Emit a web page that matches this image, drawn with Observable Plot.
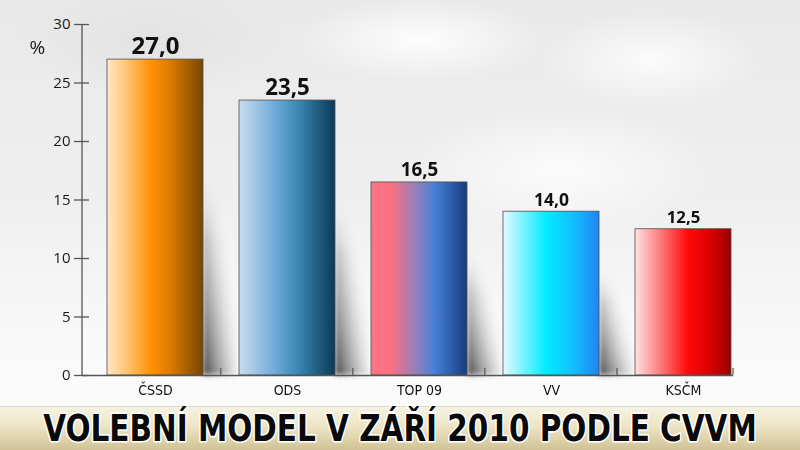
<!DOCTYPE html>
<html><head><meta charset="utf-8">
<script src="https://cdn.jsdelivr.net/npm/d3@7"></script>
<script src="https://cdn.jsdelivr.net/npm/@observablehq/plot@0.6"></script>
<style>
body{margin:0;background:#fff;}
#wrap{width:800px;height:450px;position:relative;overflow:hidden;
 background:
  radial-gradient(ellipse 180px 60px at 420px 40px, rgba(255,255,255,0.9), rgba(255,255,255,0) 70%),
  radial-gradient(ellipse 160px 70px at 650px 60px, rgba(255,255,255,0.8), rgba(255,255,255,0) 70%),
  radial-gradient(ellipse 220px 90px at 560px 170px, rgba(255,255,255,0.8), rgba(255,255,255,0) 70%),
  radial-gradient(ellipse 200px 80px at 150px 40px, rgba(225,225,225,0.8), rgba(225,225,225,0) 70%),
  linear-gradient(to bottom, #e9e9e9 0px, #efefef 200px, #f8f8f8 330px, #fbfbfb 400px);}
#chart{position:absolute;left:0;top:0;}
#band{position:absolute;left:0;top:406px;width:800px;height:44px;
 border-top:1px solid #d9d6cc;
 background:linear-gradient(to bottom,#f6f3e2 0%,#ece4c4 45%,#cfc194 100%);}
#title{position:absolute;left:0;top:400px;}
</style></head><body>
<svg width="0" height="0" style="position:absolute">
<defs>
 <linearGradient id="g-cssd" x1="0" x2="1" y1="0" y2="0">
  <stop offset="0" stop-color="#ffe7c6"/><stop offset="0.2" stop-color="#ffc577"/>
  <stop offset="0.45" stop-color="#ff9306"/><stop offset="0.65" stop-color="#df7c00"/>
  <stop offset="1" stop-color="#774600"/></linearGradient>
 <linearGradient id="g-ods" x1="0" x2="1" y1="0" y2="0">
  <stop offset="0" stop-color="#c8ddee"/><stop offset="0.35" stop-color="#76addb"/>
  <stop offset="0.6" stop-color="#3b8bb6"/><stop offset="1" stop-color="#0c3956"/></linearGradient>
 <linearGradient id="g-top09" x1="0" x2="1" y1="0" y2="0">
  <stop offset="0" stop-color="#ff7585"/><stop offset="0.2" stop-color="#fb7080"/>
  <stop offset="0.45" stop-color="#9b7fb8"/><stop offset="0.65" stop-color="#4a82d8"/>
  <stop offset="1" stop-color="#173c82"/></linearGradient>
 <linearGradient id="g-vv" x1="0" x2="1" y1="0" y2="0">
  <stop offset="0" stop-color="#e2fbff"/><stop offset="0.45" stop-color="#00ebff"/>
  <stop offset="0.7" stop-color="#10c6ff"/><stop offset="1" stop-color="#2184f2"/></linearGradient>
 <linearGradient id="g-kscm" x1="0" x2="1" y1="0" y2="0">
  <stop offset="0" stop-color="#ffe2e2"/><stop offset="0.35" stop-color="#ff5a5a"/>
  <stop offset="0.55" stop-color="#ff0a0a"/><stop offset="0.8" stop-color="#d60000"/>
  <stop offset="1" stop-color="#970000"/></linearGradient>
 <linearGradient id="g-shadow" x1="0" y1="1" x2="1" y2="0.2">
  <stop offset="0" stop-color="#2a2a2a" stop-opacity="0.9"/>
  <stop offset="0.4" stop-color="#999" stop-opacity="0.65"/>
  <stop offset="0.8" stop-color="#ffffff" stop-opacity="0.2"/>
  <stop offset="1" stop-color="#ffffff" stop-opacity="0"/></linearGradient>
 <linearGradient id="g-fade" x1="0" y1="0" x2="0" y2="1">
  <stop offset="0" stop-color="#fff" stop-opacity="0"/>
  <stop offset="0.3" stop-color="#fff" stop-opacity="0.8"/>
  <stop offset="1" stop-color="#fff" stop-opacity="1"/></linearGradient>
 <mask id="m-fade" maskContentUnits="objectBoundingBox">
  <rect x="0" y="0" width="1" height="1" fill="url(#g-fade)"/></mask>
 <filter id="f-blur" x="-0.5" y="-0.2" width="2" height="1.4"><feGaussianBlur stdDeviation="2.5"/></filter>
</defs></svg>
<div id="wrap"><div id="chart"></div><div id="band"></div>
<svg id="title" width="800" height="50"></svg></div>
<script>
const parties = ["ČSSD", "ODS", "TOP 09", "VV", "KSČM"];
const values = [27.0, 23.5, 16.5, 14.0, 12.5];
const valueLabels = ["27,0", "23,5", "16,5", "14,0", "12,5"];
const yTicks = [0, 5, 10, 15, 20, 25, 30];
const gradientIds = ["g-cssd", "g-ods", "g-top09", "g-vv", "g-kscm"];
const titleText = "VOLEBNÍ MODEL V ZÁŘÍ 2010 PODLE CVVM";
const unitLabel = "%";

const data = parties.map((p, i) => ({party: p, value: values[i], label: valueLabels[i], fill: `url(#${gradientIds[i]})`}));

const plot = Plot.plot({
  width: 800, height: 400,
  marginTop: 24, marginBottom: 25, marginLeft: 82, marginRight: 67,
  style: {background: "transparent", fontFamily: "'Open Sans', 'DejaVu Sans', sans-serif", color: "#1a1a1a", overflow: "visible"},
  x: {domain: parties, paddingInner: 0.27, paddingOuter: 0.1, align: 0.93, label: null},
  y: {domain: [0, 30], label: null},
  color: {type: "identity"},
  marks: [
    Plot.barY(data, {x: "party", y: "value", fill: "fill", stroke: "#4d4d4d", strokeWidth: 0.8}),
    Plot.ruleY([0], {stroke: "#555", strokeWidth: 1.3}),
    Plot.axisY({ticks: yTicks, tickSize: 15, dx: 7, tickPadding: 4, fontSize: 15, tickFormat: d => String(d), stroke: "#555", strokeWidth: 1.3, fill: "#1a1a1a"}),
    Plot.axisX({tickSize: 0, tickPadding: 10, fontSize: 14, fill: "#111"}),
    Plot.text(data, {x: "party", y: "value", text: "label", dy: -6, lineAnchor: "bottom", fontWeight: "bold", fontSize: d => 10.5 + d.value * 0.5, fill: "#111", fontFamily: "'Noto Sans', 'DejaVu Sans', sans-serif"}),
    Plot.text([unitLabel], {frameAnchor: "top-left", lineAnchor: "middle", dx: -53, dy: 23, fontSize: 19, fill: "#1a1a1a"})
  ]
});
document.getElementById("chart").appendChild(plot);

// decorations drawn with the plot's own scales
const sy = plot.scale("y");
const ys = d3.scaleLinear().domain(sy.domain).range(sy.range);
const sx = plot.scale("x");
const xs = d3.scaleBand().domain(sx.domain).range(sx.range)
  .paddingInner(sx.paddingInner ?? 0.27).paddingOuter(sx.paddingOuter ?? 0.1).align(sx.align ?? 0.93);
const svg = d3.select(plot);
const frameLeft = 82, frameRight = 800 - 67;
const gap = xs.step() - xs.bandwidth();

// shadows behind bars
const shG = svg.insert("g", 'g[aria-label="bar"]').attr("filter", "url(#f-blur)");
data.slice(0, 4).forEach(d => {
  const bx = xs(d.party) + xs.bandwidth();
  shG.append("rect").attr("x", bx).attr("width", gap - 2)
    .attr("y", ys(d.value * 0.62)).attr("height", ys(0) - ys(d.value * 0.62))
    .attr("fill", "url(#g-shadow)").attr("mask", "url(#m-fade)");
});

// left axis line and category separators
svg.append("line").attr("x1", frameLeft).attr("x2", frameLeft).attr("y1", ys(0)).attr("y2", ys(30))
  .attr("stroke", "#555").attr("stroke-width", 1.3);
data.forEach((d, i) => {
  const tx = i < data.length - 1 ? xs(d.party) + xs.bandwidth() + gap / 2 : frameRight;
  svg.append("line").attr("x1", tx).attr("x2", tx).attr("y1", ys(0)).attr("y2", ys(0) - 7)
    .attr("stroke", "#555").attr("stroke-width", 1.2);
});

svg.selectAll('g[aria-label="x-axis tick label"] text')
  .style("font-family", "'Liberation Sans Narrow', 'DejaVu Sans Condensed', 'DejaVu Sans', sans-serif")
  .style("font-stretch", "condensed");

// title: fit natural width to target, then stretch vertically
const targetW = 714, capH = 27, baseY = 41;
const t = d3.select("#title");
const g = t.append("g");
const tt = g.append("text").attr("x", 0).attr("y", 0).attr("text-anchor", "middle")
  .style("font-family", "'DejaVu Sans Condensed', 'DejaVu Sans', sans-serif").style("font-stretch", "condensed")
  .style("font-weight", "bold").style("font-size", "30px")
  .attr("fill", "#0a0a0a").attr("stroke", "#ffffff").attr("stroke-width", 3)
  .attr("paint-order", "stroke").attr("stroke-linejoin", "round")
  .text(titleText);
const w0 = tt.node().getComputedTextLength();
const fs = 30 * targetW / w0;
tt.style("font-size", fs + "px");
const k = capH / (0.729 * fs);
g.attr("transform", `translate(400,${baseY}) scale(1,${k})`);
tt.attr("stroke-width", 3 / Math.sqrt(k));
</script>
</body></html>
